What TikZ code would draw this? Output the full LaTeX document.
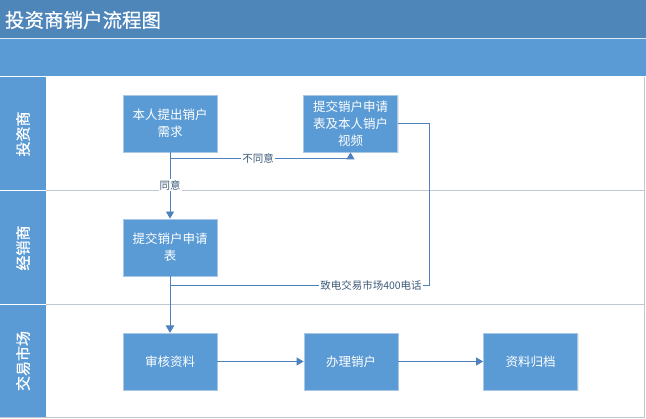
\documentclass[tikz,border=0pt]{standalone}
\usepackage{fontspec}
\setmainfont{Noto Sans CJK SC}
\newfontfamily\medfont{Noto Sans CJK SC}[FakeBold=0.6]
\usetikzlibrary{arrows.meta,shadows}
\definecolor{titlebg}{HTML}{4E86BA}
\definecolor{bandbg}{HTML}{5B9BD5}
\definecolor{boxfill}{HTML}{5B9BD5}
\definecolor{boxline}{HTML}{A9C8E8}
\definecolor{connc}{HTML}{4F81BD}
\definecolor{sepc}{HTML}{BFC7D0}
\definecolor{lblc}{HTML}{3E5A78}
\tikzset{
  procbox/.style={draw=boxline, line width=0.8pt, fill=boxfill, text=white,
    minimum width=94pt, minimum height=57pt, inner sep=2pt, align=center,
    font=\fontsize{12.5}{17}\selectfont,
    drop shadow={opacity=0.18, shadow xshift=1.2pt, shadow yshift=-1.2pt}},
  lanelabel/.style={text=white, rotate=90, font=\medfont\fontsize{15}{18}\selectfont},
  conn/.style={draw=connc, line width=0.8pt},
  arr/.style={conn, -{Triangle[width=8pt,length=7pt]}},
  edgelbl/.style={fill=white, text=lblc, inner sep=1pt, font=\fontsize{10.5}{12}\selectfont}
}
\begin{document}
\begin{tikzpicture}[x=1pt,y=-1pt]
\useasboundingbox (0,0) rectangle (646,419);
% title and band
\fill[titlebg] (0,0) rectangle (646,38);
\fill[bandbg] (0,39) rectangle (646,76);
\draw[white!80!bandbg, line width=0.8pt] (0,38.5) -- (646,38.5);
\node[anchor=west, text=white, font=\medfont\fontsize{19.5}{24}\selectfont] (title) at (1.5,20) {投资商销户流程图};
% lanes
\fill[white] (46,77) rectangle (644,417);
\fill[bandbg] (0,77) rectangle (46,190);
\fill[bandbg] (0,191) rectangle (46,304);
\fill[bandbg] (0,305) rectangle (46,417);
\draw[sepc, line width=0.8pt] (46,190.5) -- (644,190.5);
\draw[sepc, line width=0.8pt] (46,304.5) -- (644,304.5);
\draw[sepc, line width=0.8pt] (644,77) -- (644,417) -- (0,417);
\node[lanelabel] (l1) at (23,134) {投资商};
\node[lanelabel] (l2) at (23,248) {经销商};
\node[lanelabel] (l3) at (23,361) {交易市场};
% boxes
\node[procbox] (A) at (170,123.5) {本人提出销户\\需求};
\node[procbox] (B) at (350.5,123.5) {提交销户申请\\表及本人销户\\视频};
\node[procbox] (C) at (170,247.5) {提交销户申请\\表};
\node[procbox] (D) at (170,361.5) {审核资料};
\node[procbox] (E) at (351,361.5) {办理销户};
\node[procbox] (F) at (530.5,361.5) {资料归档};
% connectors
\coordinate (ab) at (170,158);
\coordinate (br) at (429,285);
\draw[arr] (A.south) -- (C.north);
\draw[arr] (ab) -| (B.south);
\draw[arr] (C.south) -- (D.north);
\draw[arr] (B.east) -| (br) -| (D.north);
\draw[arr] (D.east) -- (E.west);
\draw[arr] (E.east) -- (F.west);
% labels
\node[edgelbl] (t1) at (170,185) {同意};
\node[edgelbl] (t2) at (258,158) {不同意};
\node[edgelbl] (t3) at (371,285) {致电交易市场400电话};
\end{tikzpicture}
\end{document}
